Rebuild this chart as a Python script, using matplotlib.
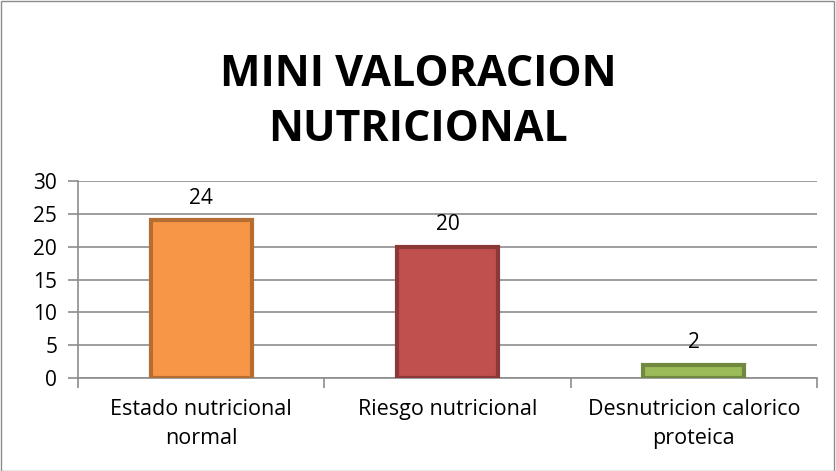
import matplotlib.pyplot as plt

categorias = ["Estado nutricional\nnormal", "Riesgo nutricional", "Desnutricion calorico\nproteica"]
valores = [24, 20, 2]
relleno = ["#F79646", "#C0504D", "#9BBB59"]
borde = ["#B66D31", "#8C3836", "#71893F"]

plt.rcParams["font.family"] = ["Open Sans", "DejaVu Sans"]

fig = plt.figure(figsize=(8.36, 4.71), dpi=100)
ax = fig.add_axes([78 / 836, 1 - 378 / 471, (817 - 78) / 836, (378 - 181) / 471])

x = range(len(valores))
ax.bar(x, valores, width=0.41, color=relleno, edgecolor=borde, linewidth=3, zorder=3)
for xi, v in zip(x, valores):
    ax.annotate(str(v), (xi, v), xytext=(0, 16), textcoords="offset points",
                ha="center", va="center", fontsize=15)

ax.set_xlim(-0.5, 2.5)
ax.set_ylim(0, 30)
ax.set_yticks(range(0, 31, 5))
ax.yaxis.grid(True, color="#8c8c8c", linewidth=1.2, zorder=0)
ax.set_xticks([-0.5, 0.5, 1.5, 2.5])
ax.set_xticklabels([])
ax.set_xticks(list(x), minor=True)
ax.set_xticklabels(categorias, minor=True, fontsize=15.5, linespacing=1.5)
ax.tick_params(axis="x", which="minor", length=0, pad=15)
ax.tick_params(axis="x", which="major", length=7, color="#8c8c8c", width=1.2)
ax.tick_params(axis="y", length=7, color="#8c8c8c", width=1.2, labelsize=15, pad=8)

for s in ["top", "right"]:
    ax.spines[s].set_visible(False)
for s in ["left", "bottom"]:
    ax.spines[s].set_color("#8c8c8c")
    ax.spines[s].set_linewidth(1.2)

fig.text(0.5, 1 - 102 / 471, "MINI VALORACION\nNUTRICIONAL", ha="center", va="center",
         fontsize=31, fontweight="bold", linespacing=1.35)

# marco del gráfico
fig.patches.append(plt.Rectangle((0.001, 0.001), 0.997, 0.997, transform=fig.transFigure,
                                 fill=False, edgecolor="#8c8c8c", linewidth=1))

fig.savefig("out.png", dpi=100)
